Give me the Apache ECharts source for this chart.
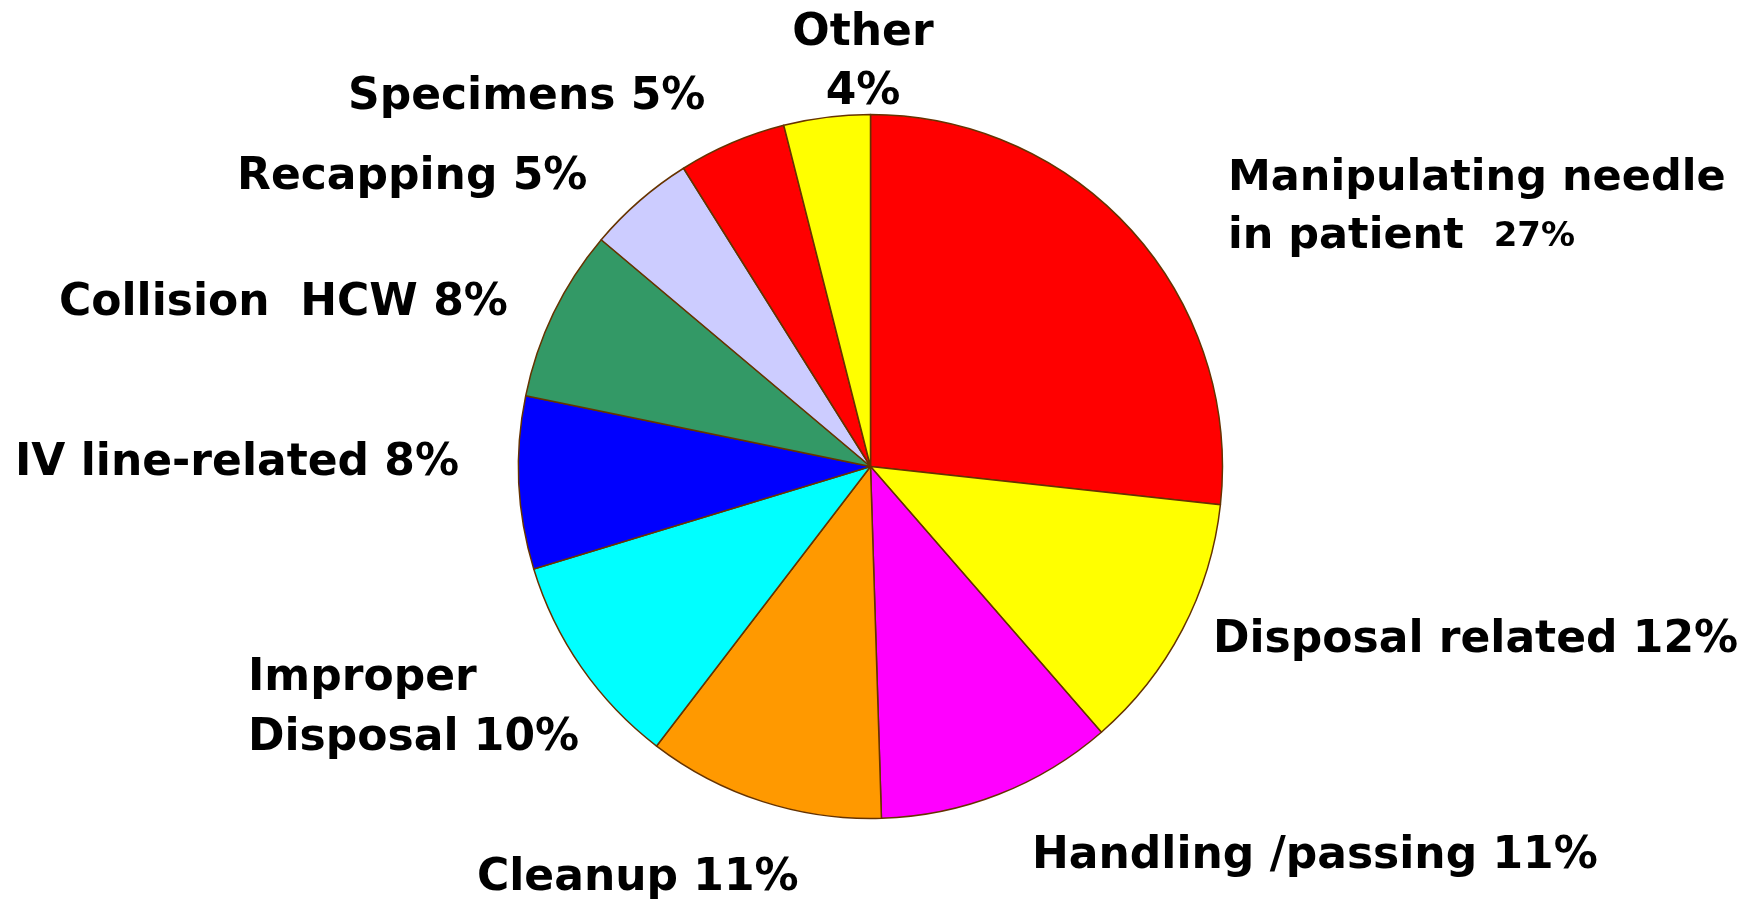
<!DOCTYPE html>
<html>
<head>
<meta charset="utf-8">
<script src="https://cdn.jsdelivr.net/npm/echarts@6/dist/echarts.min.js"></script>
<style>html,body{margin:0;padding:0;background:#fff;}#chart{width:1750px;height:901px;}</style>
</head>
<body>
<div id="chart"></div>
<script>
// Data
var categories = ['Manipulating needle\nin patient', 'Disposal related', 'Handling /passing', 'Cleanup', 'Improper\nDisposal', 'IV line-related', 'Collision  HCW', 'Recapping', 'Specimens', 'Other'];
var values = [27, 12, 11, 11, 10, 8, 8, 5, 5, 4];
var colors = ['#FF0000', '#FFFF00', '#FF00FF', '#FF9900', '#00FFFF', '#0000FF', '#339966', '#CCCCFF', '#FF0000', '#FFFF00'];

// Label layout (positions only)
var labelPos = [
  {x: 1228, y: 208, align: 'left'},
  {x: 1213, y: 641, align: 'left'},
  {x: 1032, y: 857, align: 'left'},
  {x: 477, y: 879, align: 'left'},
  {x: 248, y: 709, align: 'left'},
  {x: 15, y: 464, align: 'left'},
  {x: 59, y: 304, align: 'left'},
  {x: 237, y: 178, align: 'left'},
  {x: 348, y: 98, align: 'left'},
  {x: 863, y: 63, align: 'center'}
];

var chart = echarts.init(document.getElementById('chart'), null, {renderer: 'canvas'});
var FONT = '"DejaVu Sans", Verdana, sans-serif';
chart.setOption({
  backgroundColor: '#ffffff',
  animation: false,
  series: [{
    type: 'pie',
    center: [870.5, 466.5],
    radius: 352,
    startAngle: 90,
    clockwise: true,
    avoidLabelOverlap: false,
    data: categories.map(function (c, i) {
      return {name: c, value: values[i], itemStyle: {color: colors[i]}};
    }),
    itemStyle: {borderColor: '#663300', borderWidth: 1.5},
    emphasis: {disabled: true},
    labelLine: {show: false},
    label: {
      show: true,
      position: 'outside',
      color: '#000',
      fontFamily: FONT,
      fontWeight: 'bold',
      fontSize: 44,
      lineHeight: 59,
      formatter: function (p) {
        var i = p.dataIndex;
        var name = categories[i];
        var v = values[i] + '%';
        if (i === 0) {
          var lines = name.split('\n');
          return '{m|' + lines[0] + '}\n{m|' + lines[1] + '  }{b|' + v + '}';
        }
        if (i === 9) {
          return '{c|' + name + '}\n{c|' + v + '}';
        }
        var parts = name.split('\n');
        var last = parts.pop();
        var out = parts.map(function (s) { return '{a|' + s + '}'; });
        out.push('{a|' + last + ' ' + v + '}');
        return out.join('\n');
      },
      rich: {
        a: {fontFamily: FONT, fontWeight: 'bold', fontSize: 44, lineHeight: 60, color: '#000'},
        m: {fontFamily: FONT, fontWeight: 'bold', fontSize: 43, lineHeight: 58, color: '#000'},
        c: {fontFamily: FONT, fontWeight: 'bold', fontSize: 44, lineHeight: 59, color: '#000', align: 'center'},
        b: {fontFamily: FONT, fontWeight: 'bold', fontSize: 34, lineHeight: 58, color: '#000'}
      }
    },
    labelLayout: function (params) {
      var lp = labelPos[params.dataIndex];
      return {x: lp.x, y: lp.y, align: lp.align, verticalAlign: 'middle'};
    }
  }]
});
</script>
</body>
</html>
